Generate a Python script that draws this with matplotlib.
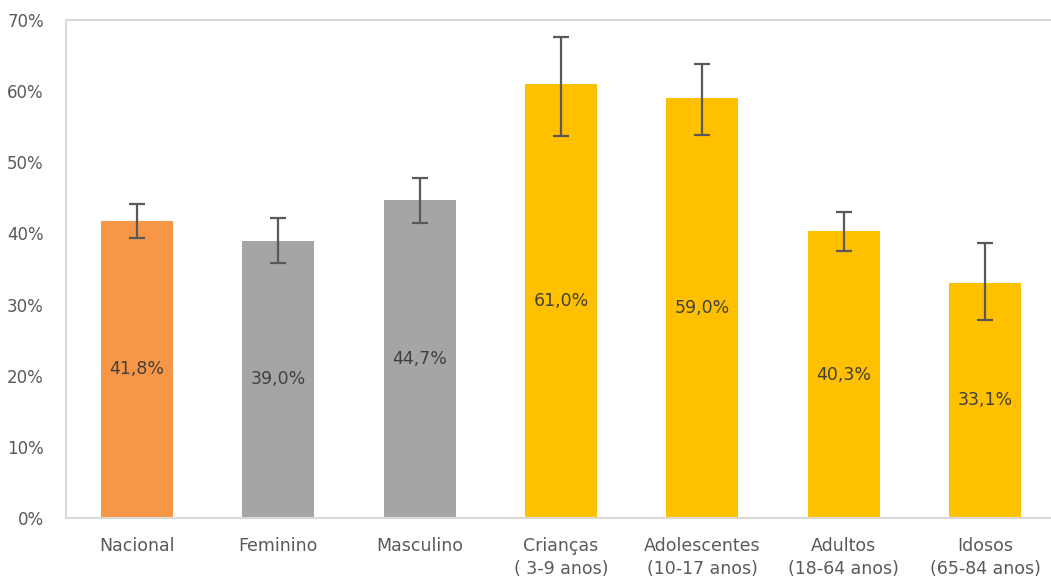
import numpy as np
import matplotlib.pyplot as plt

# data
categories = ['Nacional', 'Feminino', 'Masculino', 'Crianças\n( 3-9 anos)',
              'Adolescentes\n(10-17 anos)', 'Adultos\n(18-64 anos)', 'Idosos\n(65-84 anos)']
values = [41.8, 39.0, 44.7, 61.0, 59.0, 40.3, 33.1]
err_low = [39.3, 35.8, 41.4, 53.7, 53.8, 37.6, 27.9]
err_high = [44.2, 42.2, 47.8, 67.6, 63.8, 43.0, 38.6]
labels = ['41,8%', '39,0%', '44,7%', '61,0%', '59,0%', '40,3%', '33,1%']

colors = ['#F79646', '#A5A5A5', '#A5A5A5', '#FFC000', '#FFC000', '#FFC000', '#FFC000']

fig = plt.figure(figsize=(10.51, 5.81), dpi=100)
ax = fig.add_axes([66 / 1051, 63 / 581, 990 / 1051, 498 / 581])

x = np.arange(len(categories))
vals = np.array(values)
yerr = np.array([vals - np.array(err_low), np.array(err_high) - vals])

ax.bar(x, vals, width=0.51, color=colors, zorder=2)
ax.errorbar(x, vals, yerr=yerr, fmt='none', ecolor='#595959', elinewidth=1.6,
            capsize=6, capthick=1.6, zorder=3)

for xi, v, lab in zip(x, vals, labels):
    ax.text(xi, v / 2, lab, ha='center', va='center', fontsize=12.5, color='#404040')

ax.set_xlim(-0.5, 6.5)
ax.set_ylim(0, 70)
ax.set_yticks(np.arange(0, 71, 10))
ax.set_yticklabels([f'{t}%' for t in range(0, 71, 10)])
ax.set_xticks(x)
ax.set_xticklabels(categories, linespacing=1.35)
ax.tick_params(axis='both', length=0, labelsize=12.5, colors='#595959')
ax.tick_params(axis='x', pad=14)
ax.tick_params(axis='y', pad=16, labelsize=12)

for side in ['left', 'top', 'bottom']:
    ax.spines[side].set_color('#D9D9D9')
    ax.spines[side].set_linewidth(1.5)
ax.spines['right'].set_visible(False)

fig.savefig('out.png', dpi=100)
